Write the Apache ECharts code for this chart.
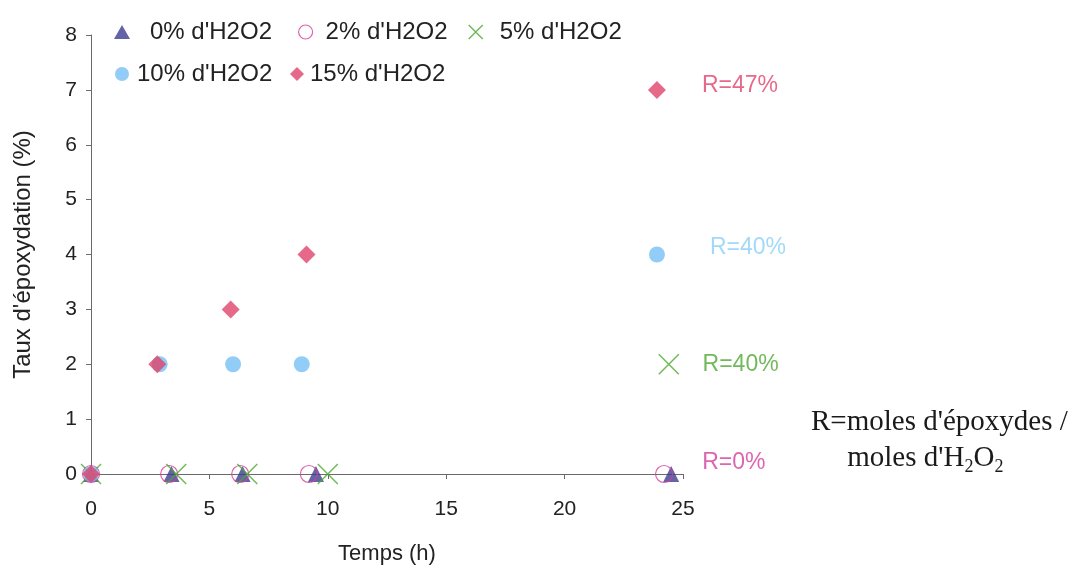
<!DOCTYPE html>
<html>
<head>
<meta charset="utf-8">
<script src="https://cdn.jsdelivr.net/npm/echarts@6/dist/echarts.min.js"></script>
<style>
  html, body { margin: 0; padding: 0; background: #fff; }
  #chart { width: 1074px; height: 567px; }
</style>
</head>
<body>
<div id="chart"></div>
<script>
// Epoxidation rate (%) versus time (h) for several H2O2 loadings
const seriesNames = ["0% d'H2O2", "2% d'H2O2", "5% d'H2O2", "10% d'H2O2", "15% d'H2O2"];
const h2o2_0  = [[0, 0], [3.4, 0], [6.4, 0], [9.5, 0], [24.5, 0]];
const h2o2_2  = [[0, 0], [3.3, 0], [6.3, 0], [9.2, 0], [24.2, 0]];
const h2o2_5  = [[0, 0], [3.6, 0], [6.6, 0], [10.0, 0], [24.4, 2]];
const h2o2_10 = [[0, 0], [2.9, 2], [6.0, 2], [8.9, 2], [23.9, 4]];
const h2o2_15 = [[0, 0], [2.8, 2], [5.9, 3], [9.1, 4], [23.9, 7]];
// Yield R reported at the end of each run
const ratioLabels = { h2o2_2: 'R=0%', h2o2_5: 'R=40%', h2o2_10: 'R=40%', h2o2_15: 'R=47%' };
const xTicks = [0, 5, 10, 15, 20, 25];
const yTicks = [0, 1, 2, 3, 4, 5, 6, 7, 8];

const colors = {
  navy: '#3c3c8f',
  magenta: '#d23f9e',
  green: '#4fa733',
  sky: '#76c1f4',
  rose: '#e0446c'
};

const FONT = 'Liberation Sans, Arial, sans-serif';
const SERIF = 'Liberation Serif, Times New Roman, serif';
const crossPath = 'path://M0,0L10,10M10,0L0,10';

// put the R label on the final point of a run
function withEndLabel(points, text, color, offset) {
  return points.map((p, i) => {
    if (i !== points.length - 1 || !text) return p;
    return {
      value: p,
      label: {
        show: true,
        position: 'right',
        formatter: text,
        color: color,
        fontSize: 23,
        fontFamily: FONT,
        offset: offset
      }
    };
  });
}

// one legend entry per box so each can sit where it belongs
function legendEntry(item, left, top, iconW, padLeft) {
  return {
    data: [item],
    left: left, top: top,
    itemWidth: iconW, itemHeight: 14,
    padding: 0,
    textStyle: { fontSize: 24, color: '#222', fontFamily: FONT, padding: [0, 0, 0, padLeft] }
  };
}

const chart = echarts.init(document.getElementById('chart'));
chart.setOption({
  animation: false,
  backgroundColor: '#ffffff',
  grid: { left: 91, right: 391, top: 35, bottom: 93, containLabel: false, outerBoundsMode: 'none' },
  xAxis: {
    type: 'value',
    min: xTicks[0], max: xTicks[xTicks.length - 1], interval: 5,
    name: 'Temps (h)',
    nameLocation: 'middle',
    nameGap: 69,
    nameTextStyle: { fontSize: 22, color: '#222', fontFamily: FONT },
    axisLine: { show: true, lineStyle: { color: '#6a6a6a', width: 1 } },
    axisTick: { show: true, length: 5, lineStyle: { color: '#6a6a6a' } },
    axisLabel: { fontSize: 21, color: '#222', fontFamily: FONT, margin: 25 },
    splitLine: { show: false }
  },
  yAxis: {
    type: 'value',
    min: yTicks[0], max: yTicks[yTicks.length - 1], interval: 1,
    name: "Taux d'époxydation (%)",
    nameLocation: 'middle',
    nameGap: 56,
    nameTextStyle: { fontSize: 24, color: '#222', fontFamily: FONT },
    axisLine: { show: true, lineStyle: { color: '#6a6a6a', width: 1 } },
    axisTick: { show: true, length: 5, lineStyle: { color: '#6a6a6a' } },
    axisLabel: { fontSize: 21, color: '#222', fontFamily: FONT, margin: 14 },
    splitLine: { show: false }
  },
  legend: [
    legendEntry({ name: seriesNames[0], icon: 'triangle' }, 114, 20, 16, 15),
    legendEntry({ name: seriesNames[1], icon: 'circle', itemStyle: { color: '#fff', borderColor: colors.magenta, borderWidth: 1.2 } }, 298, 20, 14, 8),
    legendEntry({ name: seriesNames[2], icon: crossPath, itemStyle: { color: 'transparent', borderColor: colors.green, borderWidth: 1.5 } }, 468, 20, 16, 11),
    legendEntry({ name: seriesNames[3], icon: 'circle' }, 115, 62, 14, 3),
    legendEntry({ name: seriesNames[4], icon: 'diamond' }, 290, 62, 14, 1)
  ],
  graphic: [
    {
      type: 'text',
      left: 811, top: 404,
      style: {
        text: "R=moles d'époxydes /\n     {m|moles d'H}{s|2}{m|O}{s|2}",
        fontFamily: SERIF,
        fontSize: 29,
        lineHeight: 36,
        fill: '#1a1a1a',
        rich: {
          m: { fontSize: 29, fontFamily: SERIF, lineHeight: 36 },
          s: { fontSize: 18, fontFamily: SERIF, lineHeight: 36, verticalAlign: 'bottom', padding: [15, 0, 0, 0] }
        }
      }
    }
  ],
  series: [
    {
      name: seriesNames[0], type: 'scatter', symbol: 'triangle', symbolSize: 16,
      itemStyle: { color: colors.navy },
      data: h2o2_0, z: 2
    },
    {
      name: seriesNames[1], type: 'scatter', symbol: 'circle', symbolSize: 17,
      itemStyle: { color: 'rgba(255,255,255,0)', borderColor: colors.magenta, borderWidth: 1.2 },
      data: withEndLabel(h2o2_2, ratioLabels.h2o2_2, colors.magenta, [24, -11]), z: 3
    },
    {
      name: seriesNames[2], type: 'scatter', symbol: crossPath, symbolSize: 20,
      itemStyle: { color: 'transparent', borderColor: colors.green, borderWidth: 1.5 },
      data: withEndLabel(h2o2_5, ratioLabels.h2o2_5, colors.green, [18, 0]), z: 4
    },
    {
      name: seriesNames[3], type: 'scatter', symbol: 'circle', symbolSize: 16,
      itemStyle: { color: colors.sky },
      data: withEndLabel(h2o2_10, ratioLabels.h2o2_10, '#8ccff6', [40, -7]), z: 5
    },
    {
      name: seriesNames[4], type: 'scatter', symbol: 'diamond', symbolSize: 18,
      itemStyle: { color: colors.rose },
      data: withEndLabel(h2o2_15, ratioLabels.h2o2_15, colors.rose, [31, -4]), z: 6
    }
  ]
});
</script>
</body>
</html>
